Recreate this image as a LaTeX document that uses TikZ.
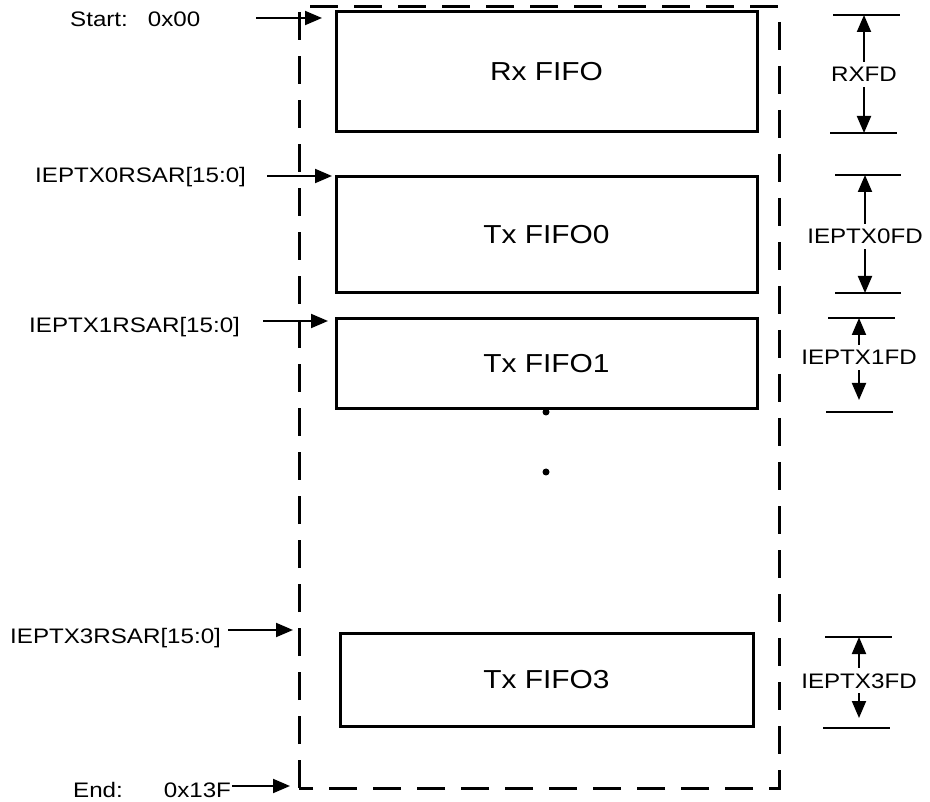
\documentclass[tikz,border=0pt]{standalone}
\usepackage{fontspec}
\setmainfont{Liberation Sans}[FakeStretch=1.15]
\usetikzlibrary{arrows.meta}

\begin{document}
\begin{tikzpicture}[
    x=1pt, y=-1pt,
    fifo/.style={draw, line width=3pt, inner sep=0pt, font=\fontsize{26}{30}\selectfont},
    addr/.style={inner sep=0pt, anchor=base west, font=\fontsize{21}{25}\selectfont},
    fdepth/.style={inner xsep=0pt, inner ysep=5pt, text height=15pt, text depth=0pt,
                   anchor=base, font=\fontsize{21}{25}\selectfont},
    ptr/.style={line width=2pt, -{Triangle[length=17pt, width=14pt]}},
    tick/.style={line width=2pt},
    frame/.style={line width=3pt, dash pattern=on 28pt off 16pt}
]
\useasboundingbox (0,0) rectangle (930,802);

% ---------------------------------------------------------------
%  Endpoint buffer RAM: 0x00 .. 0x13F, one Rx FIFO and the Tx FIFOs
%  Units are pixels of the 930 x 802 sheet, y grows downwards
% ---------------------------------------------------------------

% ---- Outer RAM frame (dashed) ----
\draw[frame] (299,788) -- (299,7) -- (779,7) -- (779,788) -- cycle;

% ---- FIFO blocks ----
\node[fifo, minimum width=421pt, minimum height=120pt] (rx)  at (546.5, 72.0) {Rx FIFO};
\node[fifo, minimum width=421pt, minimum height=116pt] (tx0) at (546.5,235.0) {Tx FIFO0};
\node[fifo, minimum width=421pt, minimum height=90pt]  (tx1) at (546.5,364.0) {Tx FIFO1};
\node[fifo, minimum width=413pt, minimum height=93pt]  (tx3) at (546.5,679.5) {Tx FIFO3};

% ---- Ellipsis between FIFO1 and FIFO3 ----
\fill (546,412) circle (3.5pt);
\fill (546,472) circle (3.5pt);

% ---- Start addresses on the left ----
\node[addr] (start) at ( 70, 27) {Start:\hspace{20pt}0x00};
\node[addr] (sar0)  at ( 35,183) {IEPTX0RSAR[15:0]};
\node[addr] (sar1)  at ( 29,333) {IEPTX1RSAR[15:0]};
\node[addr] (sar3)  at ( 10,643) {IEPTX3RSAR[15:0]};
\node[addr] (fin)   at ( 73,797) {End:\hspace{41pt}0x13F};

\coordinate (startIn) at (256, 18);  \coordinate (startAt) at (322, 18);
\coordinate (sar0In)  at (267,176);  \coordinate (sar0At)  at (332,176);
\coordinate (sar1In)  at (263,321);  \coordinate (sar1At)  at (328,321);
\coordinate (sar3In)  at (228,630);  \coordinate (sar3At)  at (293,630);
\coordinate (finIn)   at (232,786);  \coordinate (finAt)   at (290,786);

\draw[ptr] (startIn) -- (startAt);
\draw[ptr] (sar0In)  -- (sar0At);
\draw[ptr] (sar1In)  -- (sar1At);
\draw[ptr] (sar3In)  -- (sar3At);
\draw[ptr] (finIn)   -- (finAt);

% ---- FIFO depths on the right ----
\node[fdepth] (rxfd)  at (864, 82) {RXFD};
\node[fdepth] (tx0fd) at (865,244) {IEPTX0FD};
\node[fdepth] (tx1fd) at (859,365) {IEPTX1FD};
\node[fdepth] (tx3fd) at (859,688) {IEPTX3FD};

\coordinate (rxTop)  at (864, 15);  \coordinate (rxBot)  at (864,133);
\coordinate (tx0Top) at (865,175);  \coordinate (tx0Bot) at (865,293);
\coordinate (tx1Top) at (859,318);  \coordinate (tx1Bot) at (859,400);
\coordinate (tx3Top) at (859,637);  \coordinate (tx3Bot) at (859,718);

\draw[tick] (833, 15) -- (900, 15);
\draw[tick] (830,133) -- (897,133);
\draw[tick] (835,175) -- (901,175);
\draw[tick] (835,293) -- (901,293);
\draw[tick] (828,318) -- (895,318);
\draw[tick] (826,412) -- (893,412);
\draw[tick] (825,637) -- (892,637);
\draw[tick] (823,728) -- (890,728);

\draw[ptr] (rxfd.north)  -- (rxTop);
\draw[ptr] (rxfd.south)  -- (rxBot);
\draw[ptr] (tx0fd.north) -- (tx0Top);
\draw[ptr] (tx0fd.south) -- (tx0Bot);
\draw[ptr] (tx1fd.north) -- (tx1Top);
\draw[ptr] (tx1fd.south) -- (tx1Bot);
\draw[ptr] (tx3fd.north) -- (tx3Top);
\draw[ptr] (tx3fd.south) -- (tx3Bot);

\end{tikzpicture}
\end{document}
